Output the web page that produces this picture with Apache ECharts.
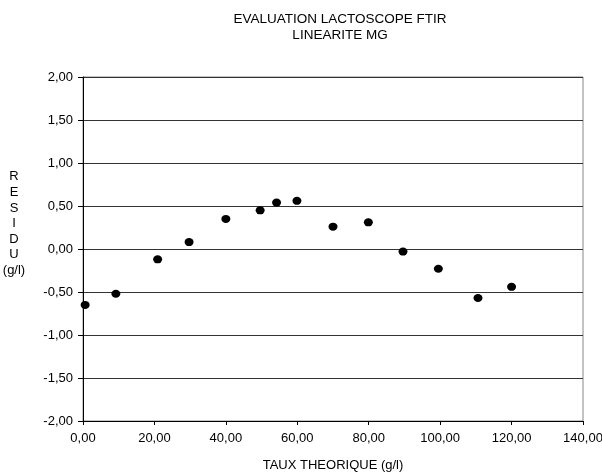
<!DOCTYPE html>
<html>
<head>
<meta charset="utf-8">
<script src="https://cdn.jsdelivr.net/npm/echarts@6/dist/echarts.min.js"></script>
<style>
  html, body { margin: 0; padding: 0; background: #fff; }
  #chart-ctn { width: 602px; height: 472px; }
</style>
</head>
<body>
<div id="chart-ctn"></div>
<script>
// taux theorique (g/l)
var tauxTheo = [0.6, 9.2, 20.9, 29.7, 40.0, 49.6, 54.2, 59.9, 70.0, 79.9, 89.6, 99.5, 110.6, 120.0];
// residu (g/l)
var residu = [-0.65, -0.52, -0.12, 0.08, 0.35, 0.45, 0.54, 0.56, 0.26, 0.31, -0.03, -0.23, -0.57, -0.44];

var fontFam = '"Liberation Sans", Arial, sans-serif';

function frNum(v) {
  return v.toFixed(2).replace('.', ',');
}

var points = [];
for (var i = 0; i < tauxTheo.length; i++) {
  points.push([tauxTheo[i], residu[i]]);
}

var myChart = echarts.init(document.getElementById('chart-ctn'));

var option = {
  backgroundColor: '#fff',
  animation: false,
  title: {
    text: 'EVALUATION LACTOSCOPE FTIR\nLINEARITE MG',
    left: 335,
    top: 6,
    textAlign: 'center',
    textStyle: {
      fontFamily: fontFam,
      fontSize: 13.5,
      fontWeight: 'normal',
      color: '#000',
      lineHeight: 16.5
    }
  },
  grid: {
    left: 83,
    right: 19,
    top: 77,
    bottom: 51,
    outerBoundsMode: 'none',
    containLabel: false,
    show: true,
    borderColor: '#888',
    borderWidth: 1
  },
  graphic: [{
    type: 'text',
    style: {
      text: 'R\nE\nS\nI\nD\nU\n(g/l)',
      fontFamily: fontFam,
      fontSize: 13,
      lineHeight: 15.6,
      fill: '#000',
      align: 'center',
      verticalAlign: 'top',
      x: 14,
      y: 169
    }
  }],
  xAxis: {
    type: 'value',
    min: 0,
    max: 140,
    interval: 20,
    name: 'TAUX THEORIQUE (g/l)',
    nameLocation: 'middle',
    nameGap: 38,
    nameTextStyle: { fontFamily: fontFam, fontSize: 13, color: '#000' },
    axisLine: { onZero: false, lineStyle: { color: '#000', width: 1 } },
    axisTick: { show: true, length: 4, lineStyle: { color: '#000' } },
    axisLabel: {
      formatter: frNum,
      fontFamily: fontFam,
      fontSize: 13,
      color: '#000',
      margin: 11
    },
    splitLine: { show: false }
  },
  yAxis: {
    type: 'value',
    min: -2,
    max: 2,
    interval: 0.5,
    axisLine: { show: true, onZero: false, lineStyle: { color: '#000', width: 1 } },
    axisTick: { show: true, length: 5, lineStyle: { color: '#000' } },
    axisLabel: {
      formatter: frNum,
      fontFamily: fontFam,
      fontSize: 13,
      color: '#000',
      margin: 10
    },
    splitLine: { show: true, lineStyle: { color: '#333', width: 1 } }
  },
  series: [{
    type: 'scatter',
    data: points,
    symbol: 'circle',
    symbolSize: [9, 8],
    itemStyle: { color: '#000', opacity: 1 }
  }]
};

myChart.setOption(option);
</script>
</body>
</html>
